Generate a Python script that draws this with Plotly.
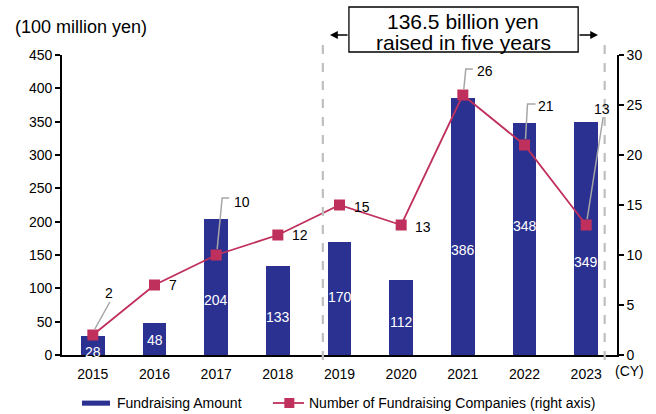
import plotly.graph_objects as go

# Annual startup fundraising (100 million yen) and number of companies raising funds
years = [2015, 2016, 2017, 2018, 2019, 2020, 2021, 2022, 2023]
year_labels = [str(y) for y in years]
amount = [28, 48, 204, 133, 170, 112, 386, 348, 349]
companies = [2, 7, 10, 12, 15, 13, 26, 21, 13]

left_ticks = [0, 50, 100, 150, 200, 250, 300, 350, 400, 450]
right_ticks = [0, 5, 10, 15, 20, 25, 30]

# Height (left-axis units) at which each amount label sits inside its bar
amount_label_height = [4, 22, 82, 57, 87, 50, 157, 193, 139]

# Pixel offsets (right, up) of each company-count label from its marker
count_label_offset = [(16, 42), (18, 0), (26, 53), (22, 0), (22, -2),
                      (22, -2), (22, 24), (21, 39), (16, 116)]
# Leader-line paths (pixels from marker) for labels moved away from their markers
leader_paths = {
    0: "M 2,6 L 17,33",
    2: "M 1,6 L 6,57 L 13,57",
    6: "M 1,6 L 3,26 L 10,26",
    7: "M 1,6 L 3,41 L 11,41",
    8: "M 1,6 L 17,108",
}

BAR = "#2B3191"
LINE = "#C0305C"
GREY = "#A6A6A6"
FONT = "Liberation Sans, Arial, sans-serif"


def text_note(x, y, text, size=14, color="black", xanchor="center",
              xref="paper", yref="paper", **kw):
    return dict(x=x, y=y, xref=xref, yref=yref, text=text, showarrow=False,
                xanchor=xanchor, yanchor="middle",
                font=dict(family=FONT, size=size, color=color), **kw)


fig = go.Figure()

fig.add_trace(go.Bar(
    x=years, y=amount, name="Fundraising Amount",
    marker=dict(color=BAR, line=dict(width=0)),
    width=0.38, yaxis="y", showlegend=False,
))

fig.add_trace(go.Scatter(
    x=years, y=companies, name="Number of Fundraising Companies (right axis)",
    mode="lines+markers", yaxis="y2",
    line=dict(color=LINE, width=1.8),
    marker=dict(symbol="square", size=11, color=LINE),
    showlegend=False,
))

shapes = []
annotations = []

# Amount labels inside the bars
for yr, val, h in zip(years, amount, amount_label_height):
    annotations.append(text_note(yr, h, str(val), color="white",
                                 xref="x", yref="y"))

# Company-count labels and their leader lines
for i, (yr, n) in enumerate(zip(years, companies)):
    dx, dy = count_label_offset[i]
    annotations.append(text_note(yr, n, str(n), xref="x", yref="y2",
                                 xshift=dx, yshift=dy))
    if i in leader_paths:
        shapes.append(dict(
            type="path", xref="x", yref="y2",
            xsizemode="pixel", ysizemode="pixel", xanchor=yr, yanchor=n,
            path=leader_paths[i], line=dict(color=GREY, width=1.5),
        ))

# Dashed bracket around the last five years
for xv in (2018.73, 2023.3):
    shapes.append(dict(
        type="line", xref="x", yref="paper", x0=xv, x1=xv, y0=-0.017, y1=1.05,
        line=dict(color="#BFBFBF", width=2.2, dash="dash"),
    ))

# Callout box
shapes.append(dict(
    type="rect", xref="paper", yref="paper",
    x0=0.517, x1=0.930, y0=1.01, y1=1.16,
    line=dict(color="black", width=1.3), fillcolor="white",
))
annotations.append(text_note(0.7234, 1.11, "136.5 billion yen", size=21))
annotations.append(text_note(0.7234, 1.04, "raised in five years", size=21))
# Arrows pointing out to the dashed lines
annotations.append(dict(
    x=0.4829, y=1.0667, xref="paper", yref="paper", text="",
    showarrow=True, ax=19, ay=0, arrowhead=2, arrowsize=1.2, arrowwidth=1.3,
    arrowcolor="black",
))
annotations.append(dict(
    x=0.9658, y=1.0667, xref="paper", yref="paper", text="",
    showarrow=True, ax=-20, ay=0, arrowhead=2, arrowsize=1.2, arrowwidth=1.3,
    arrowcolor="black",
))

# Axis unit labels
annotations.append(text_note(-0.0883, 1.093, "(100 million yen)", size=18,
                             xanchor="left"))
annotations.append(text_note(1.0234, -0.052, "(CY)"))

# Legend
shapes.append(dict(
    type="rect", xref="paper", yref="paper",
    x0=0.036, x1=0.0865, y0=-0.152, y1=-0.169,
    line=dict(width=0), fillcolor=BAR,
))
annotations.append(text_note(0.0955, -0.16, "Fundraising Amount",
                             xanchor="left"))
shapes.append(dict(
    type="line", xref="paper", yref="paper",
    x0=0.3801, x1=0.4360, y0=-0.16, y1=-0.16,
    line=dict(color=LINE, width=1.8),
))
shapes.append(dict(
    type="rect", xref="paper", yref="paper",
    xsizemode="pixel", ysizemode="pixel", xanchor=0.4096, yanchor=-0.16,
    x0=-5, x1=5, y0=-5, y1=5, line=dict(width=0), fillcolor=LINE,
))
annotations.append(text_note(0.4410, -0.16,
                             "Number of Fundraising Companies (right axis)",
                             xanchor="left"))

fig.update_layout(
    width=656, height=414, autosize=False,
    margin=dict(l=62, r=39, t=55, b=59),
    paper_bgcolor="white", plot_bgcolor="white",
    font=dict(family=FONT, size=14, color="black"),
    showlegend=False,
    bargap=0,
    xaxis=dict(
        range=[2014.5, 2023.5], tickvals=years, ticktext=year_labels,
        showline=True, linecolor="black", linewidth=1.6,
        ticks="", showgrid=False, zeroline=False, ticklabelstandoff=5,
        tickfont=dict(family=FONT, size=14, color="black"),
    ),
    yaxis=dict(
        range=[0, 450], tickvals=left_ticks,
        showline=True, linecolor="black", linewidth=1.6,
        ticks="outside", ticklen=5, tickwidth=1.5, tickcolor="black",
        showgrid=False, zeroline=False,
        tickfont=dict(family=FONT, size=14, color="black"),
    ),
    yaxis2=dict(
        range=[0, 30], tickvals=right_ticks, overlaying="y", side="right",
        showline=True, linecolor="black", linewidth=1.6,
        ticks="outside", ticklen=5, tickwidth=1.5, tickcolor="black",
        showgrid=False, zeroline=False,
        tickfont=dict(family=FONT, size=14, color="black"),
    ),
    shapes=shapes,
    annotations=annotations,
)

fig.write_html("out.html")
